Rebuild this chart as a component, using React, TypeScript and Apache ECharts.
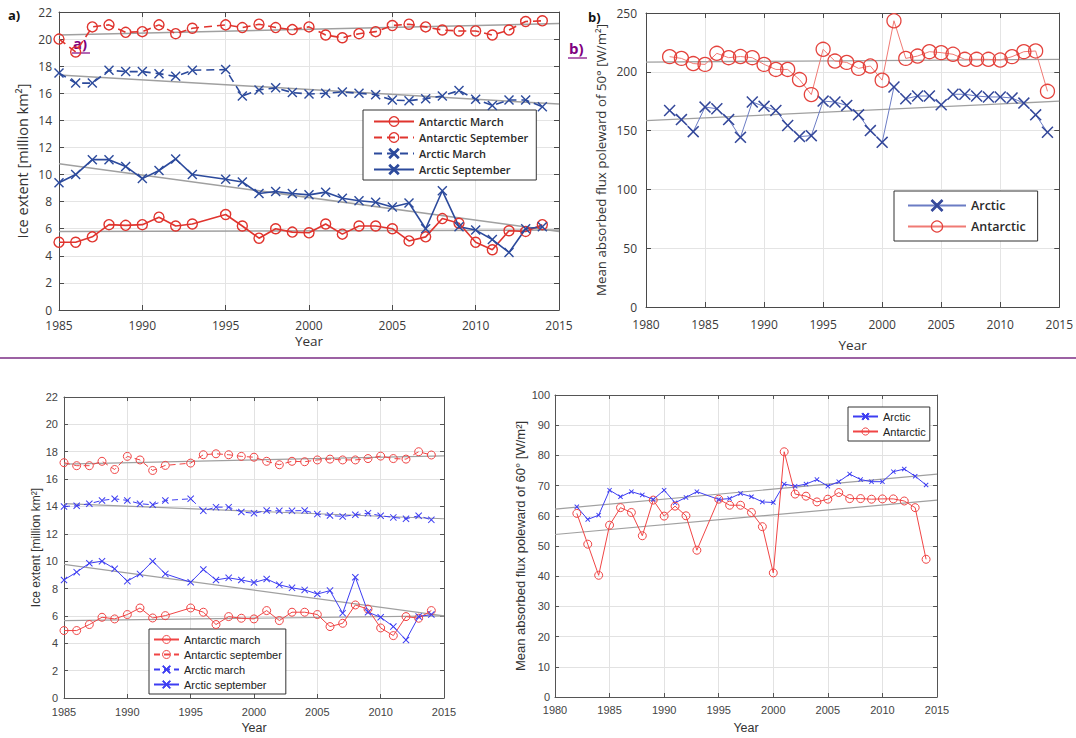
import React, { useEffect, useRef } from "react";
import * as echarts from "echarts";

// ---------- data ----------
// Ice extent years (1994 missing in ice record)
const iceYears = [1985, 1986, 1987, 1988, 1989, 1990, 1991, 1992, 1993, 1995, 1996, 1997, 1998, 1999, 2000, 2001, 2002, 2003, 2004, 2005, 2006, 2007, 2008, 2009, 2010, 2011, 2012, 2013, 2014];

// panel a)
const aAntarcticMarch = [5.0, 5.0, 5.4, 6.3, 6.25, 6.3, 6.85, 6.2, 6.35, 7.05, 6.2, 5.3, 6.0, 5.75, 5.7, 6.35, 5.6, 6.2, 6.2, 6.0, 5.1, 5.4, 6.75, 6.4, 5.0, 4.45, 5.85, 5.8, 6.3];
const aAntarcticSeptember = [20.0, 19.05, 20.9, 21.05, 20.5, 20.55, 21.05, 20.4, 20.8, 21.05, 20.85, 21.1, 20.85, 20.7, 20.9, 20.3, 20.1, 20.4, 20.55, 21.0, 21.1, 20.9, 20.67, 20.6, 20.6, 20.3, 20.67, 21.3, 21.35];
const aArcticMarch = [17.5, 16.75, 16.75, 17.7, 17.6, 17.6, 17.45, 17.25, 17.7, 17.75, 15.8, 16.25, 16.4, 16.05, 15.95, 16.0, 16.1, 16.0, 15.9, 15.5, 15.45, 15.6, 15.8, 16.2, 15.55, 15.1, 15.5, 15.5, 15.0];
const aArcticSeptember = [9.4, 10.0, 11.1, 11.1, 10.6, 9.7, 10.3, 11.15, 10.0, 9.65, 9.45, 8.6, 8.75, 8.6, 8.5, 8.7, 8.25, 8.07, 7.95, 7.6, 7.9, 6.0, 8.8, 6.15, 5.9, 5.2, 4.25, 6.0, 6.15];
const iceTrendYears = [1985, 2015];
const aTrendAntarcticMarch = [5.8, 5.9];
const aTrendAntarcticSeptember = [20.3, 21.15];
const aTrendArcticMarch = [17.35, 15.2];
const aTrendArcticSeptember = [10.8, 5.8];

// panel b)
const fluxYears50 = [1982, 1983, 1984, 1985, 1986, 1987, 1988, 1989, 1990, 1991, 1992, 1993, 1994, 1995, 1996, 1997, 1998, 1999, 2000, 2001, 2002, 2003, 2004, 2005, 2006, 2007, 2008, 2009, 2010, 2011, 2012, 2013, 2014];
const bArctic = [167.1, 159.4, 149.1, 170, 168.6, 159.4, 144.3, 174.3, 170.6, 167.1, 154.3, 144.9, 145.7, 175.1, 174.3, 171.4, 163.4, 150, 140, 187.1, 177.1, 179.4, 179.4, 172, 180.9, 180.9, 179.4, 178.6, 178.6, 177.7, 173.4, 163.4, 148.6];
const bAntarctic = [212.9, 211.4, 207, 206.3, 215.7, 212, 213, 212, 206.3, 202, 202, 193.4, 180.6, 219.1, 209.1, 208, 202.9, 204.9, 192.9, 243.4, 211.4, 213.4, 217.1, 216.3, 214.9, 210.6, 210.6, 210.6, 210, 212.9, 217.1, 217.7, 183.4];
const fluxTrendYears = [1980, 2015];
const bTrendArctic = [158.5, 175];
const bTrendAntarctic = [208.3, 210.6];

// panel c)
const cAntarcticMarch = [4.93, 4.93, 5.37, 5.9, 5.78, 6.1, 6.58, 5.85, 6.02, 6.58, 6.27, 5.37, 5.95, 5.83, 5.78, 6.39, 5.66, 6.27, 6.27, 6.1, 5.22, 5.46, 6.8, 6.5, 5.12, 4.56, 5.95, 5.83, 6.39];
const cAntarcticSeptember = [17.2, 16.98, 16.98, 17.3, 16.7, 17.66, 17.4, 16.63, 17.0, 17.17, 17.78, 17.85, 17.78, 17.66, 17.6, 17.3, 17.05, 17.3, 17.27, 17.4, 17.46, 17.4, 17.4, 17.5, 17.68, 17.5, 17.46, 18.0, 17.76];
const cArcticMarch = [14.0, 14.05, 14.2, 14.44, 14.56, 14.44, 14.2, 14.12, 14.44, 14.56, 13.68, 13.95, 13.95, 13.6, 13.5, 13.7, 13.68, 13.68, 13.7, 13.44, 13.34, 13.27, 13.39, 13.51, 13.32, 13.2, 13.1, 13.32, 13.02];
const cArcticSeptember = [8.63, 9.2, 9.85, 10.0, 9.44, 8.54, 9.07, 10.0, 9.07, 8.46, 9.39, 8.63, 8.78, 8.63, 8.44, 8.7, 8.27, 8.05, 7.9, 7.6, 7.85, 6.2, 8.83, 6.27, 5.9, 5.22, 4.24, 5.95, 6.1];
const cTrendAntarcticMarch = [5.66, 6.0];
const cTrendAntarcticSeptember = [17.1, 17.7];
const cTrendArcticMarch = [14.2, 13.1];
const cTrendArcticSeptember = [9.76, 6.0];

// panel d)
const fluxYears60 = [1982, 1983, 1984, 1985, 1986, 1987, 1988, 1989, 1990, 1991, 1992, 1993, 1995, 1996, 1997, 1998, 1999, 2000, 2001, 2002, 2003, 2004, 2005, 2006, 2007, 2008, 2009, 2010, 2011, 2012, 2013, 2014];
const dArctic = [63.0, 58.8, 60.2, 68.5, 66.3, 68.0, 66.9, 65.4, 68.5, 64.3, 66.1, 68.0, 65.4, 65.7, 67.4, 66.3, 64.6, 64.4, 70.5, 69.8, 70.5, 72.0, 69.8, 71.3, 73.8, 72.0, 71.3, 71.3, 74.6, 75.5, 73.1, 70.2];
const dAntarctic = [60.8, 50.6, 40.3, 56.9, 62.7, 61.1, 53.4, 65.2, 59.9, 63.2, 60.0, 48.6, 65.5, 63.5, 63.5, 61.1, 56.4, 41.1, 81.2, 67.2, 66.5, 64.6, 65.5, 67.7, 65.7, 65.7, 65.5, 65.6, 65.6, 64.9, 62.7, 45.6];
const dTrendArctic = [62.2, 73.8];
const dTrendAntarctic = [53.8, 65.2];

// ---------- styling helpers ----------
const FONT_TOP = "'Open Sans', 'Noto Sans', sans-serif";
const FONT_BOT = "'Liberation Sans', Arial, sans-serif";

const xPath = (t: number) =>
  `path://M0,${t}L${t},0L5,${5 - t}L${10 - t},0L10,${t}L${5 + t},5L10,${10 - t}L${10 - t},10L5,${5 + t}L${t},10L0,${10 - t}L${5 - t},5Z`;

type St = { axis: string; label: string; grid: string; font: string; fs: number; tick: number; xm: number; ym: number; nameFs: number; xNameFs: number; nameColor: string };

const stA: St = { axis: "#4a4a4a", label: "#3a3a3a", grid: "#e4e4e4", font: FONT_TOP, fs: 12, tick: 5, xm: 9, ym: 7, nameFs: 14.5, xNameFs: 13.5, nameColor: "#333" };
const stB: St = { ...stA, xm: 11, ym: 9, nameFs: 13.3 };
const stC: St = { axis: "#555", label: "#444", grid: "#e2e2e2", font: FONT_BOT, fs: 11, tick: 4, xm: 8, ym: 6, nameFs: 12, xNameFs: 12.5, nameColor: "#333" };
const stD: St = { ...stC, xm: 7, ym: 5, nameFs: 13 };

function axes(g: number, xr: number[], yr: number[], st: St, yName: string, xGap: number, yGap: number) {
  const line = { show: true, onZero: false, lineStyle: { color: st.axis, width: 1 } };
  const tick = { show: true, inside: true, length: st.tick, lineStyle: { color: st.axis, width: 1 } };
  const x = [
    {
      type: "value", gridIndex: g, min: xr[0], max: xr[1], interval: xr[2], position: "bottom",
      axisLine: line, axisTick: tick,
      axisLabel: { color: st.label, fontSize: st.fs, fontFamily: st.font, margin: st.xm, showMinLabel: true, showMaxLabel: true, formatter: (v: number) => String(v) },
      splitLine: { show: true, lineStyle: { color: st.grid, width: 1 } },
      name: "Year", nameLocation: "middle", nameGap: xGap,
      nameTextStyle: { fontFamily: st.font, fontSize: st.xNameFs, color: st.nameColor },
    },
    {
      type: "value", gridIndex: g, min: xr[0], max: xr[1], interval: xr[2], position: "top",
      axisLine: line, axisTick: tick, axisLabel: { show: false }, splitLine: { show: false },
    },
  ];
  const y = [
    {
      type: "value", gridIndex: g, min: yr[0], max: yr[1], interval: yr[2], position: "left",
      axisLine: line, axisTick: tick,
      axisLabel: { color: st.label, fontSize: st.fs, fontFamily: st.font, margin: st.ym, formatter: (v: number) => String(v) },
      splitLine: { show: true, lineStyle: { color: st.grid, width: 1 } },
      name: yName, nameLocation: "middle", nameGap: yGap, nameRotate: 90,
      nameTextStyle: { fontFamily: st.font, fontSize: st.nameFs, color: st.nameColor },
    },
    {
      type: "value", gridIndex: g, min: yr[0], max: yr[1], interval: yr[2], position: "right",
      axisLine: line, axisTick: tick, axisLabel: { show: false }, splitLine: { show: false },
    },
  ];
  return { x, y };
}

const pairs = (xs: number[], ys: number[]) => xs.map((v, i) => [v, ys[i]]);

function circleSeries(name: string, g: number, xs: number[], ys: number[], color: string, lineColor: string, lw: number, size: number, dashed: number[] | null, mw: number) {
  return {
    type: "line", name, xAxisIndex: 2 * g, yAxisIndex: 2 * g, data: pairs(xs, ys),
    symbol: "circle", symbolSize: size, showAllSymbol: true,
    lineStyle: { color: lineColor, width: lw, type: dashed ? dashed : "solid" },
    itemStyle: { color: "rgba(255,255,255,0)", borderColor: color, borderWidth: mw },
    z: 4, silent: true,
  };
}

function crossSeries(name: string, g: number, xs: number[], ys: number[], color: string, lineColor: string, lw: number, size: number, dashed: number[] | null, t: number) {
  return {
    type: "line", name, xAxisIndex: 2 * g, yAxisIndex: 2 * g, data: pairs(xs, ys),
    symbol: xPath(t), symbolSize: size, showAllSymbol: true,
    lineStyle: { color: lineColor, width: lw, type: dashed ? dashed : "solid" },
    itemStyle: { color, borderColor: color, borderWidth: 0 },
    z: 4, silent: true,
  };
}

function trend(g: number, xs: number[], ys: number[], width: number) {
  return {
    type: "line", xAxisIndex: 2 * g, yAxisIndex: 2 * g, data: pairs(xs, ys),
    symbol: "none", lineStyle: { color: "#a0a0a0", width }, z: 3, silent: true,
  };
}

export default function App() {
  const ref = useRef<HTMLDivElement>(null);

  useEffect(() => {
    if (!ref.current) return;
    const chart = echarts.init(ref.current, undefined, { renderer: "svg" });

    const A = axes(0, [1985, 2015, 5], [0, 22, 2], stA, "Ice extent [million km²]", 24, 29);
    const B = axes(1, [1980, 2015, 5], [0, 250, 50], stB, "Mean absorbed flux poleward of 50° [W/m²]", 31, 39);
    const C = axes(2, [1985, 2015, 5], [0, 22, 2], stC, "Ice extent [million km²]", 23, 22);
    const D = axes(3, [1980, 2015, 5], [0, 100, 10], stD, "Mean absorbed flux poleward of 60° [W/m²]", 24, 28);

    const redA = "#e0342e", blueA = "#2c4a9c";
    const redB = "#e4433d", redBLine = "#f07a74", blueB = "#33479a", blueBLine = "#6b7cc4";
    const redC = "#f04545", blueC = "#3d3df2";

    const legendD: Record<string, string> = { "Arctic (60°)": "Arctic", "Antarctic (60°)": "Antarctic" };

    const option: any = {
      animation: false,
      backgroundColor: "#ffffff",
      grid: [
        { left: 59, top: 12, width: 500, height: 298 },
        { left: 646, top: 13, width: 416, height: 294 },
        { left: 64, top: 397, width: 380, height: 301 },
        { left: 555, top: 395, width: 382, height: 302 },
      ],
      xAxis: [...A.x, ...B.x, ...C.x, ...D.x],
      yAxis: [...A.y, ...B.y, ...C.y, ...D.y],
      legend: [
        {
          data: ["Antarctic March", "Antarctic September", "Arctic March", "Arctic September"],
          orient: "vertical", left: 363, top: 110, padding: [6, 8, 5, 10],
          itemWidth: 40, itemHeight: 12, itemGap: 5,
          borderColor: "#333", borderWidth: 1, backgroundColor: "#fff", borderRadius: 0,
          itemStyle: { borderWidth: 1.3 },
          textStyle: { fontFamily: FONT_TOP, fontSize: 11, fontWeight: 600, color: "#2a2a2a" },
          selectedMode: false,
        },
        {
          data: ["Arctic", "Antarctic"],
          orient: "vertical", left: 894, top: 191, padding: [8, 12, 8, 13],
          itemWidth: 58, itemHeight: 14, itemGap: 8,
          borderColor: "#333", borderWidth: 1, backgroundColor: "#fff", borderRadius: 0,
          itemStyle: { borderWidth: 1.2 },
          textStyle: { fontFamily: FONT_TOP, fontSize: 12.5, fontWeight: 600, color: "#2a2a2a" },
          selectedMode: false,
        },
        {
          data: ["Antarctic march", "Antarctic september", "Arctic march", "Arctic september"],
          orient: "vertical", left: 149, top: 629, padding: [5, 4, 4, 4],
          itemWidth: 25, itemHeight: 10, itemGap: 4,
          borderColor: "#333", borderWidth: 1, backgroundColor: "#fff", borderRadius: 0,
          itemStyle: { borderWidth: 1 },
          textStyle: { fontFamily: FONT_BOT, fontSize: 11, color: "#222" },
          selectedMode: false,
        },
        {
          data: ["Arctic (60°)", "Antarctic (60°)"],
          formatter: (n: string) => legendD[n] || n,
          orient: "vertical", left: 848, top: 407, padding: [4, 4, 4, 4],
          itemWidth: 25, itemHeight: 9, itemGap: 4,
          borderColor: "#333", borderWidth: 1, backgroundColor: "#fff", borderRadius: 0,
          itemStyle: { borderWidth: 1 },
          textStyle: { fontFamily: FONT_BOT, fontSize: 11, color: "#222" },
          selectedMode: false,
        },
      ],
      series: [
        // a)
        trend(0, iceTrendYears, aTrendAntarcticMarch, 1.5),
        trend(0, iceTrendYears, aTrendAntarcticSeptember, 1.5),
        trend(0, iceTrendYears, aTrendArcticMarch, 1.5),
        trend(0, iceTrendYears, aTrendArcticSeptember, 1.5),
        circleSeries("Antarctic March", 0, iceYears, aAntarcticMarch, redA, redA, 1.6, 10, null, 1.4),
        circleSeries("Antarctic September", 0, iceYears, aAntarcticSeptember, redA, redA, 1.6, 10, [8, 5], 1.4),
        crossSeries("Arctic March", 0, iceYears, aArcticMarch, blueA, blueA, 1.6, 10, [8, 5], 1.0),
        crossSeries("Arctic September", 0, iceYears, aArcticSeptember, blueA, blueA, 1.6, 10, null, 1.0),
        // b)
        trend(1, fluxTrendYears, bTrendArctic, 1.3),
        trend(1, fluxTrendYears, bTrendAntarctic, 1.3),
        crossSeries("Arctic", 1, fluxYears50, bArctic, blueB, blueBLine, 1, 12, null, 0.9),
        circleSeries("Antarctic", 1, fluxYears50, bAntarctic, redB, redBLine, 1, 14, null, 1.3),
        // c)
        trend(2, iceTrendYears, cTrendAntarcticMarch, 1.2),
        trend(2, iceTrendYears, cTrendAntarcticSeptember, 1.2),
        trend(2, iceTrendYears, cTrendArcticMarch, 1.2),
        trend(2, iceTrendYears, cTrendArcticSeptember, 1.2),
        circleSeries("Antarctic march", 2, iceYears, cAntarcticMarch, redC, redC, 1, 8, null, 1),
        circleSeries("Antarctic september", 2, iceYears, cAntarcticSeptember, redC, redC, 1, 8, [6, 4], 1),
        crossSeries("Arctic march", 2, iceYears, cArcticMarch, blueC, blueC, 1, 7, [6, 4], 1.0),
        crossSeries("Arctic september", 2, iceYears, cArcticSeptember, blueC, blueC, 1, 7, null, 1.0),
        // d)
        trend(3, fluxTrendYears, dTrendArctic, 1.2),
        trend(3, fluxTrendYears, dTrendAntarctic, 1.2),
        crossSeries("Arctic (60°)", 3, fluxYears60, dArctic, blueC, blueC, 1, 5, null, 1.3),
        circleSeries("Antarctic (60°)", 3, fluxYears60, dAntarctic, redC, redC, 1, 8, null, 1),
      ],
      graphic: [
        { type: "line", shape: { x1: 0, y1: 358, x2: 1076, y2: 358 }, style: { stroke: "#7b2d84", lineWidth: 1.5 }, silent: true },
        { type: "text", left: 8, top: 8, style: { text: "a)", font: `bold 13px ${FONT_TOP}`, fill: "#111" }, silent: true },
        { type: "text", left: 588, top: 10, style: { text: "b)", font: `bold 13px ${FONT_TOP}`, fill: "#111" }, silent: true },
        { type: "text", left: 73, top: 35, style: { text: "a)", font: `bold 15px ${FONT_TOP}`, fill: "#800080" }, silent: true },
        { type: "line", shape: { x1: 72, y1: 53, x2: 90, y2: 53 }, style: { stroke: "#800080", lineWidth: 1.2 }, silent: true },
        { type: "text", left: 569, top: 40, style: { text: "b)", font: `bold 15px ${FONT_TOP}`, fill: "#800080" }, silent: true },
        { type: "line", shape: { x1: 568, y1: 58, x2: 587, y2: 58 }, style: { stroke: "#800080", lineWidth: 1.2 }, silent: true },
      ],
    };

    chart.setOption(option);
    return () => chart.dispose();
  }, []);

  return <div ref={ref} style={{ position: "absolute", left: 0, top: 0, width: 1076, height: 738, background: "#fff" }} />;
}
